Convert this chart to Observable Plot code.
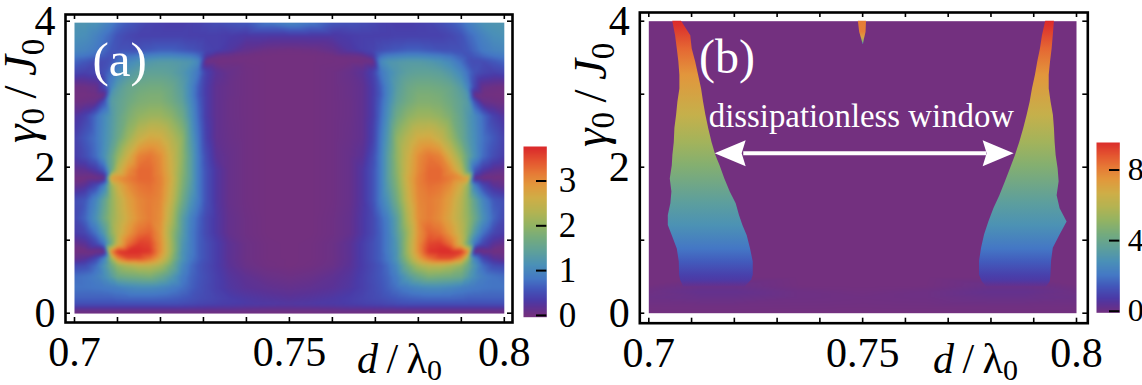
<!DOCTYPE html>
<html><head><meta charset="utf-8">
<script src="https://cdn.jsdelivr.net/npm/d3@7"></script>
<script src="https://cdn.jsdelivr.net/npm/@observablehq/plot@0.6"></script>
<style>
html,body{margin:0;padding:0;background:#fff}
#c{position:relative;width:1142px;height:385px;overflow:hidden}
#c svg{position:absolute;top:0;background:transparent;overflow:visible}
</style></head><body><div id="c"></div>
<script>
const serif = "'Liberation Serif','Times New Roman',serif";

// shared colour ramp (fraction of the colour bar -> colour)
const rampStops = [0,.05,.09,.16,.22,.30,.38,.46,.54,.62,.70,.78,.85,.92,1];
const rampColors = ["#73307f","#5c3295","#4a3ba8","#4258bb","#4478c5","#4a90b8","#5ea09b","#74ab7e","#93b363","#b4b352","#cfae47","#e2983c","#e67a36","#e45630","#db2b2b"];

const dTicks = [.70,.71,.72,.73,.74,.75,.76,.77,.78,.79,.80];
const dLabels = [.7,.75,.8];
const gammaTicks = [0,1,2,3,4];
const gammaLabels = [0,2,4];

// panel (a): left half of the symmetric map, columns d/lambda0, rows gamma0/J0
const aCols = [.7,.7025,.705,.707,.7084,.71,.7125,.715,.7175,.72,.7225,.725,.727,.7289,.7305,.733,.736,.74,.745,.75];
const aRows = [0,.05,.12,.2,.35,.5,.65,.75,.845,.95,1.1,1.3,1.55,1.75,1.85,1.95,2.15,2.4,2.7,2.9,2.99,3.1,3.3,3.45,3.52,3.6,3.8,3.98];
const aValues = [
[0,0,0,0,0,0,0,0,0,0,0,0,0,0,0,0,0,0,0,0],
[.15,.15,.15,.15,.15,.15,.15,.15,.15,.15,.15,.15,.15,.15,.15,.15,.15,.12,.1,.1],
[.5,.5,.5,.5,.5,.5,.5,.5,.5,.5,.5,.48,.45,.42,.4,.38,.35,.32,.3,.28],
[.65,.65,.65,.65,.65,.68,.7,.7,.7,.68,.65,.6,.55,.5,.47,.42,.36,.3,.25,.22],
[.8,.8,.82,.85,.88,.92,1,1.05,1.05,1,.9,.78,.66,.55,.48,.38,.28,.2,.15,.12],
[.75,.8,.9,1.1,1.3,1.6,1.7,1.75,1.8,1.6,1.3,.9,.7,.58,.5,.38,.25,.16,.08,.05],
[.45,.5,.75,1.2,1.6,2,2.25,2.4,2.4,2.2,1.7,1.05,.75,.58,.48,.35,.2,.08,.02,0],
[.1,.2,.45,1,2,3.05,3.5,3.5,3.25,2.75,2,1.2,.85,.65,.52,.36,.18,.06,.01,0],
[.01,.01,.02,.05,3,3.65,3.72,3.72,3.65,3,2.15,1.2,.9,.65,.52,.36,.18,.06,.01,0],
[.1,.2,.45,.85,1.6,2.5,3.25,3.6,3.55,3,2.15,1.25,.9,.65,.52,.36,.18,.06,.01,0],
[.35,.45,.8,1.3,1.9,2.4,2.9,3.25,3.35,2.95,2.1,1.35,.9,.65,.47,.3,.12,.04,0,0],
[.45,.7,1.15,1.65,2,2.3,2.7,3,3.15,3,2.3,1.4,.95,.68,.47,.3,.12,.04,0,0],
[.5,.6,1,1.5,1.95,2.35,2.8,3.05,3.15,3.05,2.5,1.7,1.2,.85,.55,.28,.1,.03,0,0],
[.1,.2,.45,.95,2,2.6,3,3.2,3.25,3.1,2.6,1.85,1.35,.85,.55,.28,.1,.03,0,0],
[.01,.01,.03,.1,2.8,2.95,3.15,3.3,3.3,3.1,2.65,1.9,1.4,.85,.55,.28,.1,.03,0,0],
[.1,.15,.3,.6,1.5,2.4,3,3.3,3.3,3.05,2.6,1.95,1.4,.85,.55,.28,.1,.03,0,0],
[.35,.5,.75,1.15,1.5,2,2.6,3.1,3.2,3,2.55,2,1.4,.85,.5,.2,.1,.03,0,0],
[.4,.6,.8,1.1,1.3,1.6,2.1,2.5,2.7,2.65,2.35,2,1.3,.8,.4,.15,.08,.03,0,0],
[.25,.4,.75,1.05,1.25,1.5,1.8,2,2.1,2.1,1.95,1.65,1.15,.7,.35,.15,.07,.03,0,0],
[.03,.05,.1,.55,1.3,1.45,1.65,1.8,1.85,1.85,1.7,1.45,1.05,.65,.35,.15,.07,.03,0,0],
[.01,.01,.03,.1,1.2,1.4,1.6,1.75,1.8,1.8,1.65,1.4,1,.6,.35,.15,.08,.03,0,0],
[.03,.05,.1,.45,.95,1.3,1.55,1.65,1.7,1.7,1.6,1.35,1,.62,.35,.15,.08,.03,0,0],
[.45,.4,.45,.55,.75,1,1.25,1.4,1.45,1.45,1.4,1.25,1.05,.8,.4,.2,.1,.03,0,0],
[.7,.6,.5,.5,.55,.75,1,1.15,1.25,1.3,1.3,1.25,1.2,1,.05,.02,.02,.01,0,0],
[.85,.8,.7,.6,.55,.65,.8,.9,.95,1,1,.95,.9,.75,.3,.1,.05,.02,0,0],
[1,.95,.85,.7,.6,.55,.55,.55,.6,.65,.65,.6,.55,.5,.42,.38,.28,.12,.04,.02],
[1.15,1.1,.95,.8,.7,.55,.45,.4,.4,.4,.4,.4,.38,.38,.38,.38,.35,.3,.3,.3],
[1.2,1.2,1.15,1,.9,.75,.6,.5,.42,.38,.35,.35,.38,.4,.45,.5,.55,.6,.85,1]
];
const aBarTicks = [0,1,2,3];

// panel (b): background haze (left half mirrored)
const bBackCols = [.7,.712,.72,.735,.75];
const bBackRows = [0,.1,.22,.3,.38,.5,4];
const bBackValues = [
[-.11,-.11,-.11,-.11,-.11],
[-.06,-.05,-.05,-.06,-.07],
[.05,.12,.12,0,-.03],
[0,.22,.22,0,-.07],
[-.1,.1,.1,-.1,-.11],
[-.11,-.11,-.11,-.11,-.11],
[-.11,-.11,-.11,-.11,-.11]
];
// panel (b): left lobe edges
const leftGamma = [4,3.8,3.62,3.44,3.26,3.07,2.89,2.71,2.53,2.34,2.16,2.02,1.84,1.66,1.5,1.34,1.2,1.06,.88,.7,.52,.45,.36];
const leftLo = [.70560,.70626,.70666,.70703,.70727,.70727,.70680,.70650,.70610,.70596,.70563,.70549,.70502,.70540,.70516,.70456,.70456,.70549,.70666,.70713,.70720,.70743,.70815];
const leftHi = [.70764,.70981,.71015,.71096,.71164,.71234,.71281,.71335,.71400,.71478,.71568,.71666,.71778,.71904,.72043,.72120,.72200,.72301,.72379,.72442,.72442,.72404,.72250];
// panel (b): right lobe edges
const rightGamma = [4,3.8,3.62,3.44,3.26,3.07,2.89,2.71,2.53,2.34,2.16,1.98,1.8,1.61,1.43,1.25,1.07,.89,.71,.52,.43,.36];
const rightLo = [.79280,.79204,.79157,.79094,.79040,.78970,.78916,.78846,.78767,.78673,.78573,.78456,.78339,.78208,.78068,.77951,.77850,.77780,.77733,.77733,.77796,.77900];
const rightHi = [.79484,.79457,.79430,.79393,.79362,.79362,.79406,.79460,.79484,.79500,.79524,.79570,.79594,.79547,.79617,.79780,.79616,.79457,.79417,.79403,.79386,.79300];
const bandStopsGamma = [.34,.38,.45,.52,.7,.88,1.2,1.5,2.02,2.34,2.71,3.26,3.62,3.94,4];
const bandStopsValue = [.1,.3,.7,.9,1.5,2,2.9,3.5,4.75,5.5,6.4,7.5,8.5,9.5,9.6];
// panel (b): thin spike at d = 0.75
const spikeGamma = [4,3.85,3.75,3.68];
const spikeLo = [.7490,.7493,.7498,.7501];
const spikeHi = [.7509,.7508,.7504,.7502];
const spikeStopsGamma = [3.68,3.72,3.78,3.85,4];
const spikeStopsValue = [2,5,7.2,8,8.1];
const bBarTicks = [0,4,8];
const arrowEnds = [.7154,.7853];
const arrowShaft = [.7222,.7790];
const arrowGamma = 2.19;

const colorA = {type:"linear",domain:rampStops.map(t=>t*3.73),range:rampColors,clamp:true};
const colorB = {type:"linear",domain:rampStops.map(t=>-.11+t*9.71),range:rampColors,clamp:true};

const mirrorGrid = (cols,rows,vals)=>{
  const pts=[];
  rows.forEach((g,r)=>cols.forEach((d,c)=>{
    pts.push({d,g,v:vals[r][c]});
    if(d<.75) pts.push({d:1.5-d,g,v:vals[r][c]});
  }));
  return pts;
};
const zip = (g,lo,hi)=>g.map((v,i)=>({g:v,lo:lo[i],hi:hi[i]}));

const gradientMark = (id,gs,vs)=>(index,scales)=>{
  const ns="http://www.w3.org/2000/svg";
  const defs=document.createElementNS(ns,"defs");
  const lg=document.createElementNS(ns,"linearGradient");
  lg.setAttribute("id",id);lg.setAttribute("gradientUnits","userSpaceOnUse");
  const y0=scales.y(gs[0]),y1=scales.y(gs[gs.length-1]);
  lg.setAttribute("x1",0);lg.setAttribute("x2",0);lg.setAttribute("y1",y0);lg.setAttribute("y2",y1);
  gs.forEach((g,i)=>{const s=document.createElementNS(ns,"stop");
    s.setAttribute("offset",(scales.y(g)-y0)/(y1-y0));
    s.setAttribute("stop-color",scales.color(vs[i]));lg.appendChild(s);});
  defs.appendChild(lg);return defs;
};

function axes(fh,fw){
  return [
    Plot.tickX(dTicks,{x:d=>d,insetTop:fh-5,stroke:"black",strokeWidth:1.6}),
    Plot.tickX(dTicks,{x:d=>d,insetBottom:fh-5,stroke:"black",strokeWidth:1.6}),
    Plot.tickY(gammaTicks,{y:d=>d,insetLeft:fw-5,stroke:"black",strokeWidth:1.6}),
    Plot.tickY(gammaTicks,{y:d=>d,insetRight:fw-5,stroke:"black",strokeWidth:1.6}),
    Plot.axisX({ticks:dLabels,tickSize:0,tickPadding:14,fontSize:42,fontFamily:serif,label:null,tickFormat:d=>String(d),color:"black"}),
    Plot.axisY({ticks:gammaLabels,tickSize:0,tickPadding:10,fontSize:42,fontFamily:serif,label:null,tickFormat:d=>String(d),color:"black"}),
    Plot.frame({stroke:"black",strokeWidth:2.6})
  ];
}
function place(svg,left){svg.style.left=left+"px";document.getElementById("c").appendChild(svg);return svg;}
function title(svg,parts,attrs){
  const t=d3.select(svg).append("text").attr("font-family",serif).attr("fill","black").attr("font-size",attrs.size).attr("text-anchor","start").attr("transform",attrs.transform);
  parts.forEach(([s,sty,dy,sz])=>{t.append("tspan").text(s).attr("font-style",sty).attr("dy",dy||0).attr("font-size",sz||attrs.size);});
}

// ---------- panel (a)
const aW=520;
const pa=Plot.plot({
  width:aW,height:385,marginLeft:65,marginRight:aW-512,marginTop:14,marginBottom:63,
  style:{background:"transparent"},
  x:{domain:[.7,.8],range:[74,503.8],axis:null},
  y:{domain:[0,4],range:[312.7,20.7],axis:null},
  color:colorA,
  marks:[
    Plot.raster(mirrorGrid(aCols,aRows,aValues),{x:"d",y:"g",fill:"v",x1:.7,x2:.8,y1:-.005,y2:3.98,interpolate:"barycentric",blur:1}),
    ...axes(322-14,512-65),
    Plot.text(["(a)"],{x:[.7105],y:[3.46],fill:"white",fontSize:49,fontFamily:serif})
  ]
});
place(pa,0);
title(pa,[["d","italic"],["\u2009/\u2009","normal"],["λ","normal"],["0","normal",7,30]],{size:42,transform:"translate(357,373)"});
title(pa,[["γ","italic"],["0","normal",8,33],["\u2009/\u2009","normal",-8],["J","italic"],["0","normal",8,33]],{size:47,transform:"translate(36,143) rotate(-90)"});

// ---------- colour bar (a)
const ba=Plot.plot({
  width:60,height:385,marginLeft:4,marginRight:32.7,marginTop:146,marginBottom:385-316.7,
  style:{background:"transparent"},
  x:{domain:[0,1],axis:null},
  y:{domain:[-.04,3.77],axis:null},
  color:colorA,
  marks:[
    Plot.raster({x1:0,x2:1,y1:-.04,y2:3.77,fill:(x,y)=>y,pixelSize:1}),
    Plot.tickY(aBarTicks,{y:d=>d,insetLeft:13,stroke:"black",strokeWidth:2}),
    Plot.axisY({anchor:"right",ticks:aBarTicks,tickSize:0,tickPadding:12,fontSize:35,fontFamily:serif,label:null,color:"black",tickFormat:d=>String(d)})
  ]
});
place(ba,519.3);

// ---------- panel (b)
const bW=520;
const bLeft=622;
const pb=Plot.plot({
  width:bW,height:385,marginLeft:639.3-bLeft,marginRight:bW-(1087.3-bLeft),marginTop:12,marginBottom:385-322.7,
  style:{background:"transparent"},
  x:{domain:[.7,.8],range:[648.3-bLeft,1076-bLeft],axis:null},
  y:{domain:[0,4],range:[312.7,20.7],axis:null},
  color:colorB,
  marks:[
    Plot.raster(mirrorGrid(bBackCols,bBackRows,bBackValues),{x:"d",y:"g",fill:"v",x1:.7,x2:.8,y1:0,y2:4,interpolate:"barycentric"}),
    gradientMark("bandB",bandStopsGamma,bandStopsValue),
    gradientMark("spikeB",spikeStopsGamma,spikeStopsValue),
    Plot.area(zip(leftGamma,leftLo,leftHi),{x1:"lo",x2:"hi",y1:"g",fill:"url(#bandB)"}),
    Plot.area(zip(rightGamma,rightLo,rightHi),{x1:"lo",x2:"hi",y1:"g",fill:"url(#bandB)"}),
    Plot.area(zip(spikeGamma,spikeLo,spikeHi),{x1:"lo",x2:"hi",y1:"g",fill:"url(#spikeB)"}),
    Plot.ruleY([arrowGamma],{x1:arrowShaft[0],x2:arrowShaft[1],stroke:"white",strokeWidth:4}),
    Plot.dot([arrowEnds[0]],{x:d=>d,y:()=>arrowGamma,fill:"white",stroke:"none",symbol:{draw(c){c.moveTo(0,0);c.lineTo(31,-13);c.lineTo(27,0);c.lineTo(31,13);c.closePath();}}}),
    Plot.dot([arrowEnds[1]],{x:d=>d,y:()=>arrowGamma,fill:"white",stroke:"none",symbol:{draw(c){c.moveTo(0,0);c.lineTo(-31,-13);c.lineTo(-27,0);c.lineTo(-31,13);c.closePath();}}}),
    ...axes(322.7-12,1087.3-639.3),
    Plot.text(["(b)"],{x:[.7183],y:[3.5],fill:"white",fontSize:48,fontFamily:serif}),
    Plot.text(["dissipationless window"],{x:[.7497],y:[2.7],fill:"white",fontSize:32.8,fontFamily:serif})
  ]
});
place(pb,bLeft);
title(pb,[["d","italic"],["\u2009/\u2009","normal"],["λ","normal"],["0","normal",7,30]],{size:42,transform:`translate(${933-bLeft},373)`});
title(pb,[["γ","italic"],["0","normal",8,33],["\u2009/\u2009","normal",-8],["J","italic"],["0","normal",8,33]],{size:47,transform:`translate(${606-bLeft},147) rotate(-90)`});

// ---------- colour bar (b)
const bb=Plot.plot({
  width:50,height:385,marginLeft:4,marginRight:22.7,marginTop:142,marginBottom:385-312.3,
  style:{background:"transparent"},
  x:{domain:[0,1],axis:null},
  y:{domain:[-.09,9.56],axis:null},
  color:colorB,
  marks:[
    Plot.raster({x1:0,x2:1,y1:-.09,y2:9.56,fill:(x,y)=>y,pixelSize:1}),
    Plot.tickY(bBarTicks,{y:d=>d,insetLeft:13,stroke:"black",strokeWidth:2}),
    Plot.axisY({anchor:"right",ticks:bBarTicks,tickSize:0,tickPadding:8,fontSize:32,fontFamily:serif,label:null,color:"black",tickFormat:d=>String(d)})
  ]
});
place(bb,1091.7);
</script></body></html>
